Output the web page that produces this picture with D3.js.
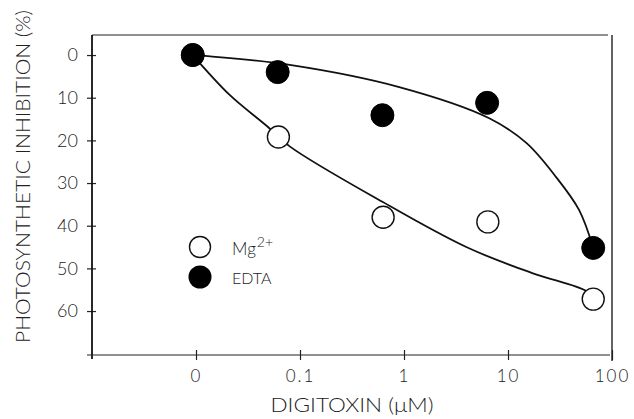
<!DOCTYPE html>
<html>
<head>
<meta charset="utf-8">
<script src="https://cdn.jsdelivr.net/npm/d3@7"></script>
<style>
  html, body { margin: 0; padding: 0; background: #fff; }
  svg { display: block; }
  text { font-family: "Lato", "Liberation Sans", "DejaVu Sans", sans-serif; font-weight: 300; fill: #222; }
</style>
</head>
<body>
<svg id="chart" width="634" height="419"></svg>
<script>
// ---- data ----
const xTickLabels = ["0", "0.1", "1", "10", "100"];
const xTickValues = [0.01, 0.1, 1, 10, 100];   // "0" drawn at the 0.01 position of the log axis
const yTickValues = [0, 10, 20, 30, 40, 50, 60];
const mgConc   = [0.0093, 0.062, 0.63, 6.4, 66];
const mgValues = [0, 19.2, 38.0, 39.1, 57.2];
const edtaConc   = [0.0093, 0.061, 0.62, 6.3, 66];
const edtaValues = [0, 4.0, 14.1, 11.2, 45.2];
// fitted curves (concentration, inhibition %)
const edtaCurveX = [0.0093, 0.0122, 0.0796, 0.90, 6.6, 15.0, 29.0, 48.2, 66];
const edtaCurveY = [0, 0.2, 2.3, 7.5, 14.8, 20.6, 28.6, 36.3, 45.2];
const mgCurveX = [0.0093, 0.0212, 0.0489, 0.0796, 0.62, 3.97, 17.1, 56.4, 66];
const mgCurveY = [0, 9.4, 16.8, 21.4, 34.4, 45.0, 51.1, 55.3, 57.0];
const legendLabels = ["Mg", "EDTA"];

// ---- layout ----
const mLeft = 92, mRight = 612, mTop = 35, mBottom = 355;
const svg = d3.select("#chart");

const x = d3.scaleLog().domain([0.001, 100]).range([mLeft, mRight]);
const y = d3.scaleLinear().domain([-4.7, 70.3]).range([mTop, mBottom]);

// frame
svg.append("line").attr("x1", mLeft).attr("x2", mRight - 4).attr("y1", mTop).attr("y2", mTop)
  .attr("stroke", "#222").attr("stroke-width", 1.2);
svg.append("line").attr("x1", mRight).attr("x2", mRight).attr("y1", mTop).attr("y2", mBottom + 6)
  .attr("stroke", "#222").attr("stroke-width", 1.4);

// y axis
const yAxis = svg.append("g").attr("transform", `translate(${mLeft},0)`)
  .call(d3.axisLeft(y).tickValues(yTickValues).tickSize(5).tickSizeOuter(0).tickPadding(9));
yAxis.select(".domain").remove();
yAxis.selectAll(".tick line").attr("x1", 4).attr("x2", -5).attr("stroke", "#222").attr("stroke-width", 1.2);
yAxis.selectAll(".tick text").style("font-size", "18px").attr("fill", "#222");
svg.append("line").attr("x1", mLeft).attr("x2", mLeft).attr("y1", mTop).attr("y2", mBottom + 4)
  .attr("stroke", "#111").attr("stroke-width", 1.8);

// x axis
const xAxis = svg.append("g").attr("transform", `translate(0,${mBottom})`)
  .call(d3.axisBottom(x).tickValues(xTickValues).tickFormat((d, i) => xTickLabels[i])
    .tickSize(5).tickSizeOuter(0).tickPadding(10));
xAxis.select(".domain").remove();
xAxis.selectAll(".tick line").attr("y1", -5).attr("y2", 5).attr("stroke", "#222").attr("stroke-width", 1.2);
xAxis.selectAll(".tick text").style("font-size", "17px").attr("fill", "#222").attr("letter-spacing", "2px");
svg.append("line").attr("x1", mLeft - 5).attr("x2", mRight - 2).attr("y1", mBottom).attr("y2", mBottom)
  .attr("stroke", "#222").attr("stroke-width", 1.2);

// axis titles
svg.append("text")
  .attr("transform", `translate(30,${(10 + 343) / 2}) rotate(-90)`)
  .attr("text-anchor", "middle")
  .attr("textLength", 333).attr("lengthAdjust", "spacingAndGlyphs")
  .style("font-size", "20px")
  .text("PHOTOSYNTHETIC INHIBITION (%)");
svg.append("text")
  .attr("x", 352).attr("y", 412)
  .attr("text-anchor", "middle")
  .attr("textLength", 163).attr("lengthAdjust", "spacingAndGlyphs")
  .style("font-size", "20px")
  .text("DIGITOXIN (\u03BCM)");

// curves
const line = d3.line().x(d => x(d[0])).y(d => y(d[1])).curve(d3.curveCatmullRom.alpha(0.5));
svg.append("path").datum(edtaCurveX.map((v, i) => [v, edtaCurveY[i]]))
  .attr("d", line).attr("fill", "none").attr("stroke", "#111").attr("stroke-width", 1.8);
svg.append("path").datum(mgCurveX.map((v, i) => [v, mgCurveY[i]]))
  .attr("d", line).attr("fill", "none").attr("stroke", "#111").attr("stroke-width", 1.8);

// points
const r = 11;
svg.append("g").selectAll("circle").data(mgConc.map((v, i) => [v, mgValues[i]])).join("circle")
  .attr("cx", d => x(d[0])).attr("cy", d => y(d[1])).attr("r", r)
  .attr("fill", "#fff").attr("stroke", "#111").attr("stroke-width", 1.4);
svg.append("g").selectAll("circle").data(edtaConc.map((v, i) => [v, edtaValues[i]])).join("circle")
  .attr("cx", d => x(d[0])).attr("cy", d => y(d[1])).attr("r", r + 0.5)
  .attr("fill", "#000").attr("stroke", "#000").attr("stroke-width", 1);

// legend
const lg = svg.append("g");
lg.append("circle").attr("cx", 200).attr("cy", 247).attr("r", 10.5)
  .attr("fill", "#fff").attr("stroke", "#111").attr("stroke-width", 1.4);
lg.append("circle").attr("cx", 200).attr("cy", 277).attr("r", 11.5).attr("fill", "#000");
const mgText = lg.append("text").attr("x", 232).attr("y", 255).style("font-size", "17px");
mgText.append("tspan").text(legendLabels[0]);
mgText.append("tspan").attr("dy", -8).style("font-size", "14px").attr("dx", 1).text("2+");
lg.append("text").attr("x", 232).attr("y", 284).style("font-size", "16px").text(legendLabels[1]);
</script>
</body>
</html>
